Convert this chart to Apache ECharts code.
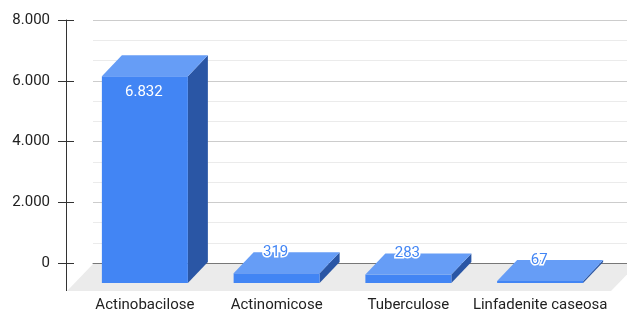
<!DOCTYPE html>
<html>
<head>
<meta charset="utf-8">
<script src="https://cdn.jsdelivr.net/npm/echarts@6/dist/echarts.min.js"></script>
<style>
  html, body { margin: 0; padding: 0; background: #fff; }
  #chart { width: 627px; height: 313px; }
</style>
</head>
<body>
<div id="chart"></div>
<script>
const categories = ['Actinobacilose', 'Actinomicose', 'Tuberculose', 'Linfadenite caseosa'];
const values = [6832, 319, 283, 67];
const yTicks = [0, 2000, 4000, 6000, 8000];

const FONT = 'Roboto';
const DEPTH_X = 20;
const DEPTH_Y = -21;
const BAR_W = 86;

const fmt = v => String(v).replace(/\B(?=(\d{3})+(?!\d))/g, '.');

const chart = echarts.init(document.getElementById('chart'));

// floor + lower part of the y axis line
const renderFloor = (params, api) => {
  const cs = params.coordSys;
  const y0 = api.coord([0, 0])[1];
  const axisX = cs.x - 27 + 0.5;
  return {
    type: 'group',
    children: [
      {
        type: 'polygon',
        shape: {
          points: [
            [cs.x, y0 + 1],
            [cs.x + cs.width + 10, y0 + 1],
            [cs.x + cs.width - 16, y0 + 28],
            [cs.x - 26, y0 + 28]
          ]
        },
        style: { fill: '#ebebeb' }
      },
      {
        type: 'line',
        shape: { x1: axisX, y1: y0, x2: axisX, y2: y0 + 28 },
        style: { stroke: '#333', lineWidth: 1 }
      }
    ]
  };
};

const renderBar = (params, api) => {
  const idx = api.value(0);
  const val = api.value(1);
  const top = api.coord([idx, val]);
  const base = api.coord([idx, 0]);
  const x0 = top[0] - BAR_W / 2;
  const x1 = top[0] + BAR_W / 2;
  const yt = top[1];
  const yb = base[1];
  const inside = yb - yt > 30;
  const children = [
    {
      type: 'polygon',
      shape: { points: [[x1, yt], [x1, yb], [x1 + DEPTH_X, yb + DEPTH_Y], [x1 + DEPTH_X, yt + DEPTH_Y]] },
      style: { fill: '#2a56a5' }
    },
    {
      type: 'rect',
      shape: { x: x0, y: yt, width: BAR_W, height: yb - yt },
      style: { fill: '#4285f4' }
    },
    {
      type: 'polygon',
      shape: { points: [[x0, yt], [x1, yt], [x1 + DEPTH_X, yt + DEPTH_Y], [x0 + DEPTH_X, yt + DEPTH_Y]] },
      style: { fill: '#669df6' }
    },
    {
      type: 'text',
      style: {
        x: top[0] - 1,
        y: inside ? yt + 16 : yt - 21,
        text: fmt(val),
        align: 'center',
        verticalAlign: 'middle',
        fontFamily: FONT,
        fontSize: 15,
        fill: inside ? '#ffffff' : '#4285f4',
        stroke: inside ? null : '#ffffff',
        lineWidth: inside ? 0 : 3
      }
    }
  ];
  return { type: 'group', children };
};

const option = {
  animation: false,
  grid: [
    { left: 93, right: 0, top: 20, bottom: 50 },
    { left: 79, right: 21, top: 41, bottom: 29 }
  ],
  xAxis: [
    {
      gridIndex: 0,
      type: 'category',
      data: categories,
      axisLabel: { show: false },
      axisTick: { show: false },
      axisLine: { show: true, lineStyle: { color: '#777', width: 1 } }
    },
    {
      gridIndex: 1,
      type: 'category',
      data: categories,
      axisLine: { show: false },
      axisTick: { show: false },
      axisLabel: { margin: 15, fontFamily: FONT, fontSize: 15, color: '#222', interval: 0 }
    }
  ],
  yAxis: [
    {
      gridIndex: 0,
      type: 'value',
      min: yTicks[0],
      max: yTicks[yTicks.length - 1],
      interval: 2000,
      offset: 27,
      axisLine: { show: true, lineStyle: { color: '#333', width: 1 } },
      axisTick: { show: true, length: 8, lineStyle: { color: '#333' } },
      axisLabel: { margin: 16, fontFamily: FONT, fontSize: 15, color: '#222', formatter: v => fmt(v) },
      splitLine: { show: true, lineStyle: { color: '#cccccc', width: 1 } },
      minorTick: { show: false, splitNumber: 3 },
      minorSplitLine: { show: true, lineStyle: { color: '#ebebeb', width: 1 } }
    },
    {
      // inner half of the y ticks
      gridIndex: 0,
      type: 'value',
      position: 'left',
      min: yTicks[0],
      max: yTicks[yTicks.length - 1],
      interval: 2000,
      offset: 27,
      axisLine: { show: false },
      axisTick: { show: true, inside: true, length: 8, lineStyle: { color: '#333' } },
      axisLabel: { show: false },
      splitLine: { show: false }
    },
    {
      gridIndex: 1,
      type: 'value',
      min: yTicks[0],
      max: yTicks[yTicks.length - 1],
      show: false
    }
  ],
  series: [
    {
      type: 'custom',
      xAxisIndex: 0,
      yAxisIndex: 0,
      renderItem: renderFloor,
      data: [[0, 0]],
      silent: true,
      z: 1
    },
    {
      type: 'custom',
      xAxisIndex: 1,
      yAxisIndex: 2,
      renderItem: renderBar,
      data: values.map((v, i) => [i, v]),
      z: 3
    }
  ]
};

chart.setOption(option);
</script>
</body>
</html>
